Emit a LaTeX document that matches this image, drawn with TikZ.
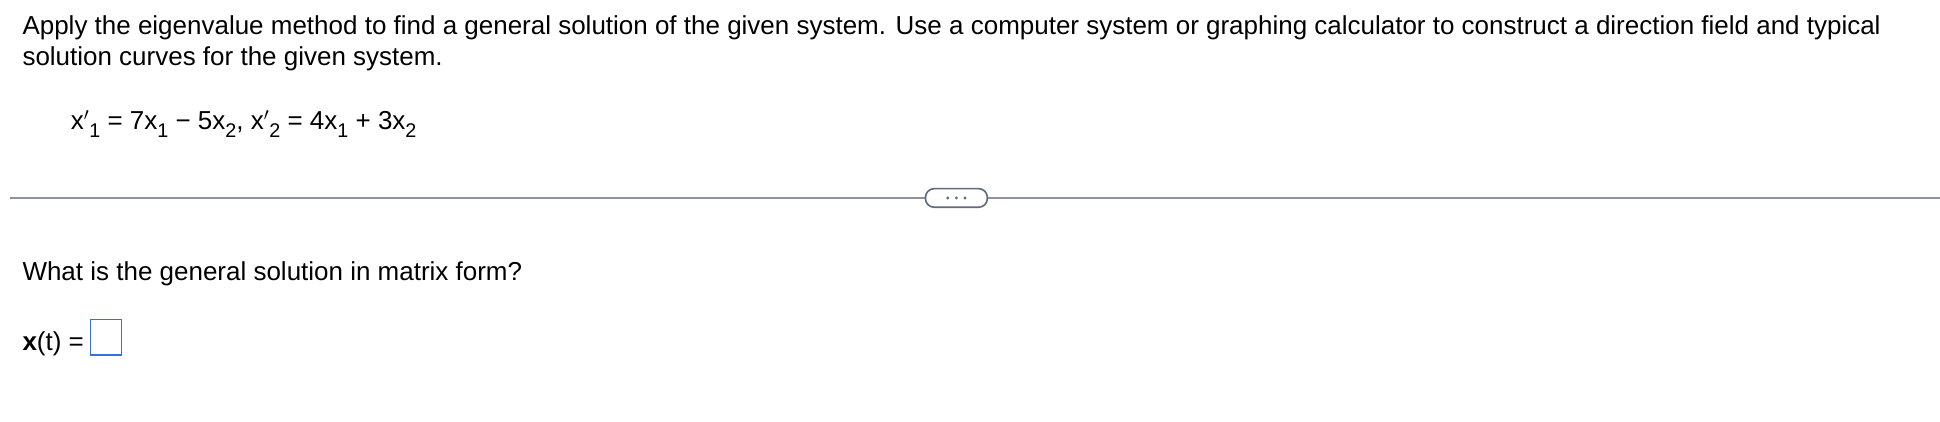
\documentclass[tikz,border=0pt]{standalone}
\usepackage{fontspec}
\setmainfont{Liberation Sans}
\definecolor{rule}{HTML}{8A939E}
\definecolor{pill}{HTML}{5F6B78}
\definecolor{ansblue}{HTML}{3B6FD6}
\tikzset{txt/.style={anchor=base west,inner sep=0pt,font=\fontsize{21}{25}\selectfont}}
\newcommand{\sbx}[1]{\raisebox{-6pt}{\fontsize{16}{18}\selectfont #1}}
\begin{document}
\begin{tikzpicture}[x=1pt,y=-1pt]
\useasboundingbox[fill=white] (0,0) rectangle (1568,341);
\node[txt] (l1) at (18,28) {Apply the eigenvalue method to find a general solution of the given system. Use a computer system or graphing calculator to construct a direction field and typical};
\node[txt] (l2) at (18,53) {solution curves for the given system.};
\node[txt] (eq) at (57,105) {x$'$\sbx{1} = 7x\sbx{1} \textminus{} 5x\sbx{2}, x$'$\sbx{2} = 4x\sbx{1} + 3x\sbx{2}};
\coordinate (ra) at (8,160);
\coordinate (rb) at (1568,160);
\draw[rule,line width=1.3pt] (ra) -- (rb);
\node[draw=pill,fill=white,line width=1.3pt,rounded corners=7pt,minimum width=50pt,minimum height=15pt,inner sep=0pt] (btn) at (773,160) {};
\foreach \dx in {-7,0,7}{\fill[pill] ([xshift=\dx pt]btn.center) circle (1.3pt);}
\node[txt] (q) at (18,227) {What is the general solution in matrix form?};
\node[txt] (xt) at (18,283) {\textbf{x}(t) =};
\node[draw=ansblue,line width=1pt,minimum width=25pt,minimum height=29pt,inner sep=0pt] (box) at (85.5,272.5) {};
\end{tikzpicture}
\end{document}
